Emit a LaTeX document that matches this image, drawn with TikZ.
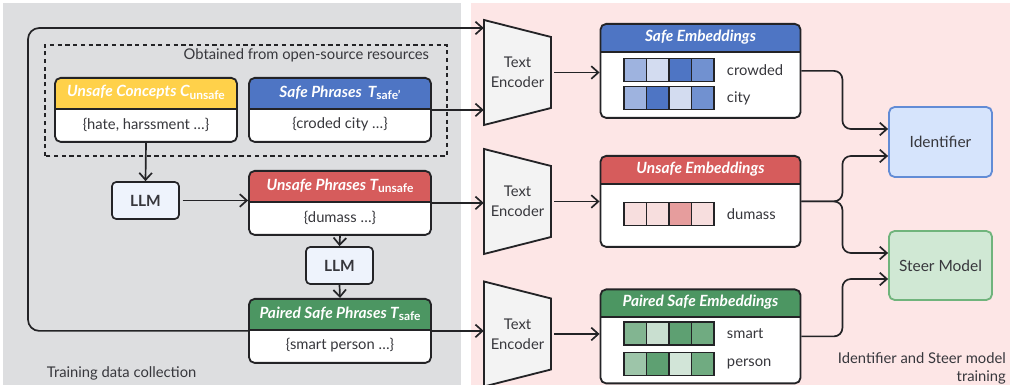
\documentclass[tikz,border=0pt]{standalone}
\usepackage{fontspec}
\setmainfont{Lato}
\usetikzlibrary{arrows.meta,positioning}

\definecolor{linec}{RGB}{35,35,38}
\definecolor{textc}{RGB}{55,55,60}
\definecolor{bggray}{RGB}{221,222,224}
\definecolor{bgpink}{RGB}{253,230,230}
\definecolor{yellowh}{RGB}{255,209,74}
\definecolor{blueh}{RGB}{78,117,196}
\definecolor{redh}{RGB}{214,92,92}
\definecolor{greenh}{RGB}{76,150,98}
\definecolor{llmfill}{RGB}{238,243,252}
\definecolor{encfill}{RGB}{243,243,243}
\definecolor{idfill}{RGB}{214,228,252}
\definecolor{iddraw}{RGB}{98,140,214}
\definecolor{steerfill}{RGB}{208,232,212}
\definecolor{steerdraw}{RGB}{112,180,124}

\tikzset{
  line/.style={draw=linec, line width=1.2pt},
  arrow/.style={line, -{Straight Barb[length=5pt,width=9pt]}},
  tbox/.style 2 args={draw=linec, line width=1.3pt, rounded corners=4pt, fill=white, inner sep=0pt,
    path picture={
      \fill[#1, sharp corners] (path picture bounding box.north west) rectangle ([yshift=-#2]path picture bounding box.north east);
      \draw[linec, line width=1.3pt, sharp corners] ([yshift=-#2]path picture bounding box.north west) -- ([yshift=-#2]path picture bounding box.north east);
    }},
  titletext/.style={text=white, font=\fontsize{11}{13}\selectfont\bfseries\itshape},
  bodytext/.style={font=\fontsize{10.5}{12}\selectfont},
  llm/.style={draw=linec, line width=1.2pt, rounded corners=3pt, fill=llmfill,
    minimum width=1.675cm, minimum height=0.925cm, font=\fontsize{11}{13}\selectfont\bfseries},
  enc/.style={minimum width=1.675cm, minimum height=2.625cm, inner sep=0pt, align=center,
    font=\fontsize{10.5}{14.5}\selectfont},
  encshape/.style={draw=linec, line width=1.3pt, fill=encfill},
  cell/.style={draw=linec, line width=0.8pt, minimum width=0.5625cm, minimum height=0.575cm, inner sep=0pt},
  idbox/.style={draw=iddraw, line width=1.3pt, rounded corners=4pt, fill=idfill,
    minimum width=2.575cm, minimum height=1.75cm, font=\fontsize{11}{13}\selectfont},
  steerbox/.style={idbox, draw=steerdraw, fill=steerfill, minimum height=1.725cm},
}

\newcommand{\lowsub}[1]{\raisebox{-0.3ex}{\upshape\fontsize{8.5}{10}\selectfont #1}}

% name, top centre, colour, title, body
\newcommand{\phrasebox}[5]{%
  \node[tbox={#3}{0.775cm}, minimum width=4.55cm, minimum height=1.6cm, anchor=north] (#1) at #2 {};
  \node[titletext] (#1-title) at ([yshift=-0.39cm]#1.north) {#4};
  \node[bodytext] (#1-body) at ([yshift=-1.19cm]#1.north) {#5};
}
% name, top centre, height, colour, title
\newcommand{\embbox}[5]{%
  \node[tbox={#4}{0.7cm}, minimum width=5cm, minimum height=#3, anchor=north] (#1) at #2 {};
  \node[titletext] (#1-title) at ([yshift=-0.35cm]#1.north) {#5};
}
% name, colour, y, shades, word
\newcommand{\embrow}[5]{%
  \foreach \c [count=\i from 0] in {#4}
    \node[cell, fill=#2!\c!white] (#1-\i) at ({15.88+0.5625*\i},#3) {};
  \node[bodytext, anchor=west] (#1-word) at (18.05,#3) {#5};
}

\begin{document}
\begin{tikzpicture}[font=\fontsize{10.5}{12.5}\selectfont, text=textc]
  \useasboundingbox (0,0) rectangle (25.25,9.625);
  % backgrounds
  \fill[bggray] (0.075,0) rectangle (11.525,9.55);
  \fill[bgpink] (11.775,0) rectangle (25.25,9.55);

  % data collection
  \draw[linec, line width=1.1pt, dash pattern=on 3pt off 2.5pt] (1.125,5.725) rectangle (11.175,8.5);
  \node[anchor=east] (src) at (10.85,8.23) {Obtained from open-source resources};

  \phrasebox{uc}{(3.65,7.7)}{yellowh}{Unsafe Concepts C\lowsub{unsafe}}{\{hate, harssment \dots\}}
  \phrasebox{sp}{(8.5,7.7)}{blueh}{Safe Phrases~\,T\lowsub{safe'}}{\{croded city \dots\}}
  \phrasebox{up}{(8.5,5.375)}{redh}{Unsafe Phrases T\lowsub{unsafe}}{\{dumass \dots\}}
  \phrasebox{pp}{(8.5,2.175)}{greenh}{Paired Safe Phrases T\lowsub{safe}}{\{smart person \dots\}}

  \node[llm] (llm1) at (3.6375,4.6125) {LLM};
  \node[llm] (llm2) at (8.4875,2.9875) {LLM};

  % encoders
  \foreach \n/\y in {1/7.8125, 2/4.5875, 3/1.275} {
    \draw[encshape] (12.1,\y+1.3125) -- (13.775,\y+0.8875) -- (13.775,\y-0.8875) -- (12.1,\y-1.3125) -- cycle;
    \node[enc] (enc\n) at (12.9375,\y) {Text\\Encoder};
  }

  % embeddings
  \embbox{se}{(17.5125,9.05)}{2.35cm}{blueh}{Safe Embeddings}
  \embbox{ue}{(17.5125,5.75)}{2.275cm}{redh}{Unsafe Embeddings}
  \embbox{pe}{(17.5125,2.4125)}{2.35cm}{greenh}{Paired Safe Embeddings}
  \embrow{crowded}{blueh}{7.875}{55,25,100,80}{crowded}
  \embrow{city}{blueh}{7.165}{55,100,25,80}{city}
  \embrow{dumass}{redh}{4.275}{20,20,60,20}{dumass}
  \embrow{smart}{greenh}{1.2875}{70,30,90,80}{smart}
  \embrow{person}{greenh}{0.525}{55,90,25,80}{person}

  \node[idbox] (id) at (23.5125,6.075) {Identifier};
  \node[steerbox] (steer) at (23.5125,2.9875) {Steer Model};

  % connectors
  \draw[arrow] (uc.south) -- (llm1.north);
  \draw[arrow] ([xshift=2pt]llm1.east) -- (llm1.east -| up.west);
  \draw[arrow] (up.south) -- (llm2.north);
  \draw[arrow] (llm2.south) -- (pp.north);
  \draw[arrow] (sp.east) -- (sp.east -| enc1.west);
  \draw[arrow] (up.east) -- (up.east -| enc2.west);
  \draw[arrow] (pp.east) -- (pp.east -| enc3.west);
  \coordinate (loop) at (0.7,8.925);
  \draw[arrow, rounded corners=8pt] (pp.west) -| (loop) -- (loop -| enc1.west);
  \foreach \n/\e in {1/se, 2/ue, 3/pe}
    \draw[arrow] ([xshift=2pt]enc\n.east) -- (enc\n.east -| \e.west);
  \draw[arrow, rounded corners=6pt] (se.east) -- ++(1.025,0) |- ([yshift=0.325cm]id.west);
  \draw[arrow, rounded corners=6pt] (ue.east) -- ++(1.025,0) |- ([yshift=-0.35cm]id.west);
  \draw[arrow, rounded corners=6pt] (ue.east) -- ++(1.025,0) |- ([yshift=0.3125cm]steer.west);
  \draw[arrow, rounded corners=6pt] (pe.east) -- ++(1.025,0) |- ([yshift=-0.3375cm]steer.west);

  \node[anchor=west] (left) at (1.05,0.3) {Training data collection};
  \node[anchor=east, align=right] (right) at (25.27,0.42) {Identifier and Steer model\\training};
\end{tikzpicture}
\end{document}
